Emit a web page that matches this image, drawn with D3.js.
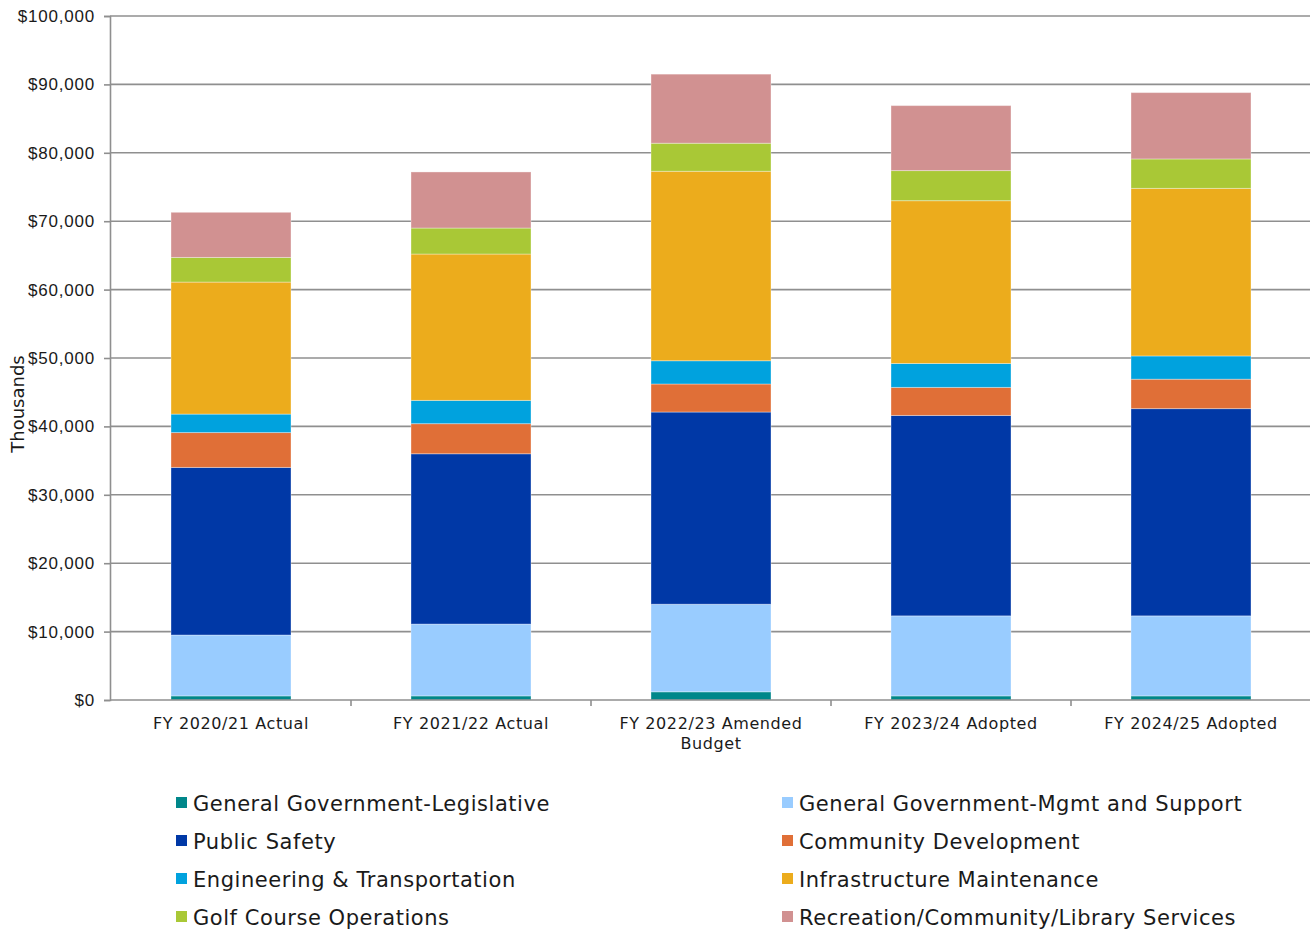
<!DOCTYPE html>
<html lang="en">
<head>
<meta charset="UTF-8">
<title>Budget by Department</title>
<script src="https://d3js.org/d3.v7.min.js"></script>
<style>
  body { margin: 0; background: #fff; }
  svg { display: block; font-family: "DejaVu Sans", Verdana, sans-serif; }
</style>
</head>
<body>
<div id="chart"></div>
<script>
// values in thousands of dollars
const years = ["FY 2020/21 Actual", "FY 2021/22 Actual", "FY 2022/23 Amended Budget", "FY 2023/24 Adopted", "FY 2024/25 Adopted"];
const seriesNames = [
  "General Government-Legislative",
  "General Government-Mgmt and Support",
  "Public Safety",
  "Community Development",
  "Engineering & Transportation",
  "Infrastructure Maintenance",
  "Golf Course Operations",
  "Recreation/Community/Library Services"
];
const colors = ["#00878a", "#99ccff", "#0038a6", "#e06f37", "#00a2de", "#ecac1c", "#a9c836", "#d19191"];

const legislative = [600, 600, 1200, 600, 600];
const mgmtSupport = [8900, 10500, 12800, 11700, 11700];
const publicSafety = [24500, 24900, 28100, 29300, 30300];
const communityDev = [5100, 4400, 4100, 4100, 4300];
const engineering = [2700, 3400, 3400, 3500, 3400];
const infrastructure = [19300, 21400, 27700, 23800, 24500];
const golf = [3600, 3800, 4100, 4400, 4300];
const recreation = [6600, 8200, 10100, 9500, 9700];

const yTicks = [0, 10000, 20000, 30000, 40000, 50000, 60000, 70000, 80000, 90000, 100000];

const seriesValues = [legislative, mgmtSupport, publicSafety, communityDev, engineering, infrastructure, golf, recreation];

const table = years.map((yr, i) => {
  const row = { year: yr };
  seriesNames.forEach((s, j) => row[s] = seriesValues[j][i]);
  return row;
});

const W = 1310, H = 931;
const margin = { left: 110, right: 1310, top: 16, bottom: 700 };

const svg = d3.select("#chart").append("svg")
  .attr("width", W).attr("height", H);

const x = d3.scaleBand()
  .domain(years)
  .range([margin.left + 1, margin.right + 1])
  .paddingInner(0.5)
  .paddingOuter(0.25);

const y = d3.scaleLinear()
  .domain([0, 100000])
  .range([margin.bottom, margin.top]);

// gridlines
svg.append("g")
  .selectAll("line")
  .data(yTicks.slice(1))
  .enter().append("line")
  .attr("x1", margin.left).attr("x2", margin.right)
  .attr("y1", d => y(d)).attr("y2", d => y(d))
  .attr("stroke", "#8f8f8f")
  .attr("stroke-width", 1.6);

// stacked bars
const stack = d3.stack().keys(seriesNames)(table);

svg.append("g")
  .selectAll("g")
  .data(stack)
  .enter().append("g")
  .attr("fill", (d, i) => colors[i])
  .selectAll("rect")
  .data(d => d)
  .enter().append("rect")
  .attr("x", d => x(d.data.year))
  .attr("y", d => y(d[1]))
  .attr("width", x.bandwidth())
  .attr("height", d => y(d[0]) - y(d[1]))
  .attr("stroke", "#ffffff")
  .attr("stroke-opacity", 0.35)
  .attr("stroke-width", 1);

// y axis
const yAxis = svg.append("g")
  .attr("transform", `translate(${margin.left},0)`)
  .call(d3.axisLeft(y).tickValues(yTicks).tickSize(6).tickPadding(9)
    .tickFormat(d => "$" + d3.format(",")(d)));
yAxis.select(".domain").attr("stroke", "#8f8f8f").attr("stroke-width", 1.6);
yAxis.selectAll(".tick line").attr("stroke", "#8f8f8f").attr("stroke-width", 1.6);
yAxis.selectAll(".tick text").attr("fill", "#1a1a1a")
  .style("font-size", "17px").style("letter-spacing", "0.8px");

// x axis
svg.append("line")
  .attr("x1", margin.left).attr("x2", margin.right)
  .attr("y1", margin.bottom).attr("y2", margin.bottom)
  .attr("stroke", "#8f8f8f").attr("stroke-width", 1.6);

const step = x.step();
const bounds = d3.range(1, years.length).map(i => x(years[i]) - (step - x.bandwidth()) / 2);
svg.append("g")
  .selectAll("line")
  .data(bounds)
  .enter().append("line")
  .attr("x1", d => d).attr("x2", d => d)
  .attr("y1", margin.bottom).attr("y2", margin.bottom + 6)
  .attr("stroke", "#8f8f8f").attr("stroke-width", 1.6);

const xLabels = svg.append("g")
  .selectAll("text")
  .data(years)
  .enter().append("text")
  .attr("x", d => x(d) + x.bandwidth() / 2)
  .attr("y", margin.bottom + 29)
  .attr("text-anchor", "middle")
  .attr("fill", "#1a1a1a")
  .style("font-size", "16px")
  .style("letter-spacing", "0.6px");

xLabels.each(function (d) {
  const t = d3.select(this);
  const lines = d.length > 20 ? [d.replace(/ Budget$/, ""), "Budget"] : [d];
  lines.forEach((ln, k) => {
    t.append("tspan")
      .attr("x", x(d) + x.bandwidth() / 2)
      .attr("dy", k === 0 ? 0 : 20)
      .text(ln);
  });
});

// y axis title
svg.append("text")
  .attr("transform", "rotate(-90)")
  .attr("x", -404)
  .attr("y", 24)
  .attr("text-anchor", "middle")
  .attr("fill", "#1a1a1a")
  .style("font-size", "18px")
  .text("Thousands");

// legend
const legend = svg.append("g")
  .selectAll("g")
  .data(seriesNames)
  .enter().append("g")
  .attr("transform", (d, i) => `translate(${i % 2 === 0 ? 176 : 782},${803 + Math.floor(i / 2) * 38})`);

legend.append("rect")
  .attr("x", 0).attr("y", -6)
  .attr("width", 11).attr("height", 11)
  .attr("fill", (d, i) => colors[i]);

legend.append("text")
  .attr("x", 17)
  .attr("y", 7.5)
  .attr("fill", "#1a1a1a")
  .style("font-size", "21px")
  .style("letter-spacing", "0.55px")
  .text(d => d);
</script>
</body>
</html>
